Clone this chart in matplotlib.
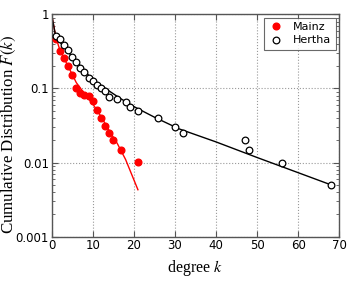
import matplotlib
matplotlib.use("Agg")
import matplotlib.pyplot as plt
import matplotlib.ticker as mticker

# Data
mainz_k = [1, 2, 3, 4, 5, 6, 7, 8, 9, 10, 11, 12, 13, 14, 15, 17, 21]
mainz_F = [0.46, 0.32, 0.255, 0.2, 0.15, 0.1, 0.086, 0.082, 0.078, 0.067,
           0.051, 0.04, 0.031, 0.025, 0.02, 0.015, 0.0102]
hertha_k = [1, 2, 3, 4, 5, 6, 7, 8, 9, 10, 11, 12, 13, 14, 16, 18, 19, 21,
            26, 30, 32, 47, 48, 56, 68]
hertha_F = [0.51, 0.46, 0.38, 0.33, 0.265, 0.23, 0.19, 0.165, 0.14, 0.125,
            0.11, 0.10, 0.093, 0.076, 0.072, 0.065, 0.056, 0.05, 0.04, 0.03,
            0.025, 0.02, 0.015, 0.01, 0.005]
# fit curves
mainz_fit_k = [0, 1, 2, 4, 6, 8, 10, 12, 14, 16, 18, 21]
mainz_fit_F = [1, 0.5, 0.33, 0.2, 0.12, 0.085, 0.062, 0.042, 0.027, 0.018, 0.011, 0.0043]
hertha_fit_k = [0, 1, 3, 5, 10, 16.6, 20, 25, 31, 40, 50, 60, 68]
hertha_fit_F = [1, 0.5, 0.36, 0.27, 0.13, 0.074, 0.057, 0.041, 0.0285, 0.019, 0.0117, 0.0073, 0.005]

plt.rcParams['mathtext.fontset'] = 'stix'

fig = plt.figure(figsize=(3.55, 2.81), dpi=100)
ax = fig.add_axes([0.1454, 0.1577, 0.8104, 0.7913])

ax.plot(mainz_fit_k, mainz_fit_F, color='red', lw=1.0, zorder=2)
ax.plot(hertha_fit_k, hertha_fit_F, color='black', lw=1.0, zorder=2)
ax.plot(mainz_k, mainz_F, 'o', color='red', mec='red', ms=4.8, label='Mainz', zorder=3)
ax.plot(hertha_k, hertha_F, 'o', mfc='white', mec='black', mew=0.9, ms=4.8,
        label='Hertha', zorder=4)

ax.set_yscale('log')
ax.set_xlim(0, 70)
ax.set_ylim(0.001, 1)
ax.set_xticks([0, 10, 20, 30, 40, 50, 60, 70])
ax.set_yticks([0.001, 0.01, 0.1, 1])
ax.yaxis.set_major_formatter(mticker.FixedFormatter(['0.001', '0.01', '0.1', '1']))
ax.yaxis.set_minor_locator(mticker.LogLocator(base=10, subs=range(2, 10)))
ax.yaxis.set_minor_formatter(mticker.NullFormatter())

ax.tick_params(which='both', direction='in', top=True, right=True, labelsize=8.5,
               color='#555555')
ax.tick_params(which='major', length=4, pad=2)
ax.tick_params(which='minor', length=2)
for s in ax.spines.values():
    s.set_color('#555555')
    s.set_linewidth(1.0)

ax.grid(True, which='major', linestyle=':', color='#999999', linewidth=0.8)

ax.set_xlabel('degree $k$', family='Liberation Serif', fontsize=11.5, labelpad=4)
ax.set_ylabel('Cumulative Distribution $F(k)$', family='Liberation Serif', fontsize=12.2)
ax.yaxis.set_label_coords(-0.117, 0.46)

leg = ax.legend(loc='upper right', fontsize=8, numpoints=1, fancybox=False,
                handlelength=1.2, borderpad=0.4, labelspacing=0.3,
                handletextpad=1.0, borderaxespad=0.3)
leg.get_frame().set_edgecolor('#444444')
leg.get_frame().set_linewidth(0.8)

fig.savefig('out.png', dpi=100)
